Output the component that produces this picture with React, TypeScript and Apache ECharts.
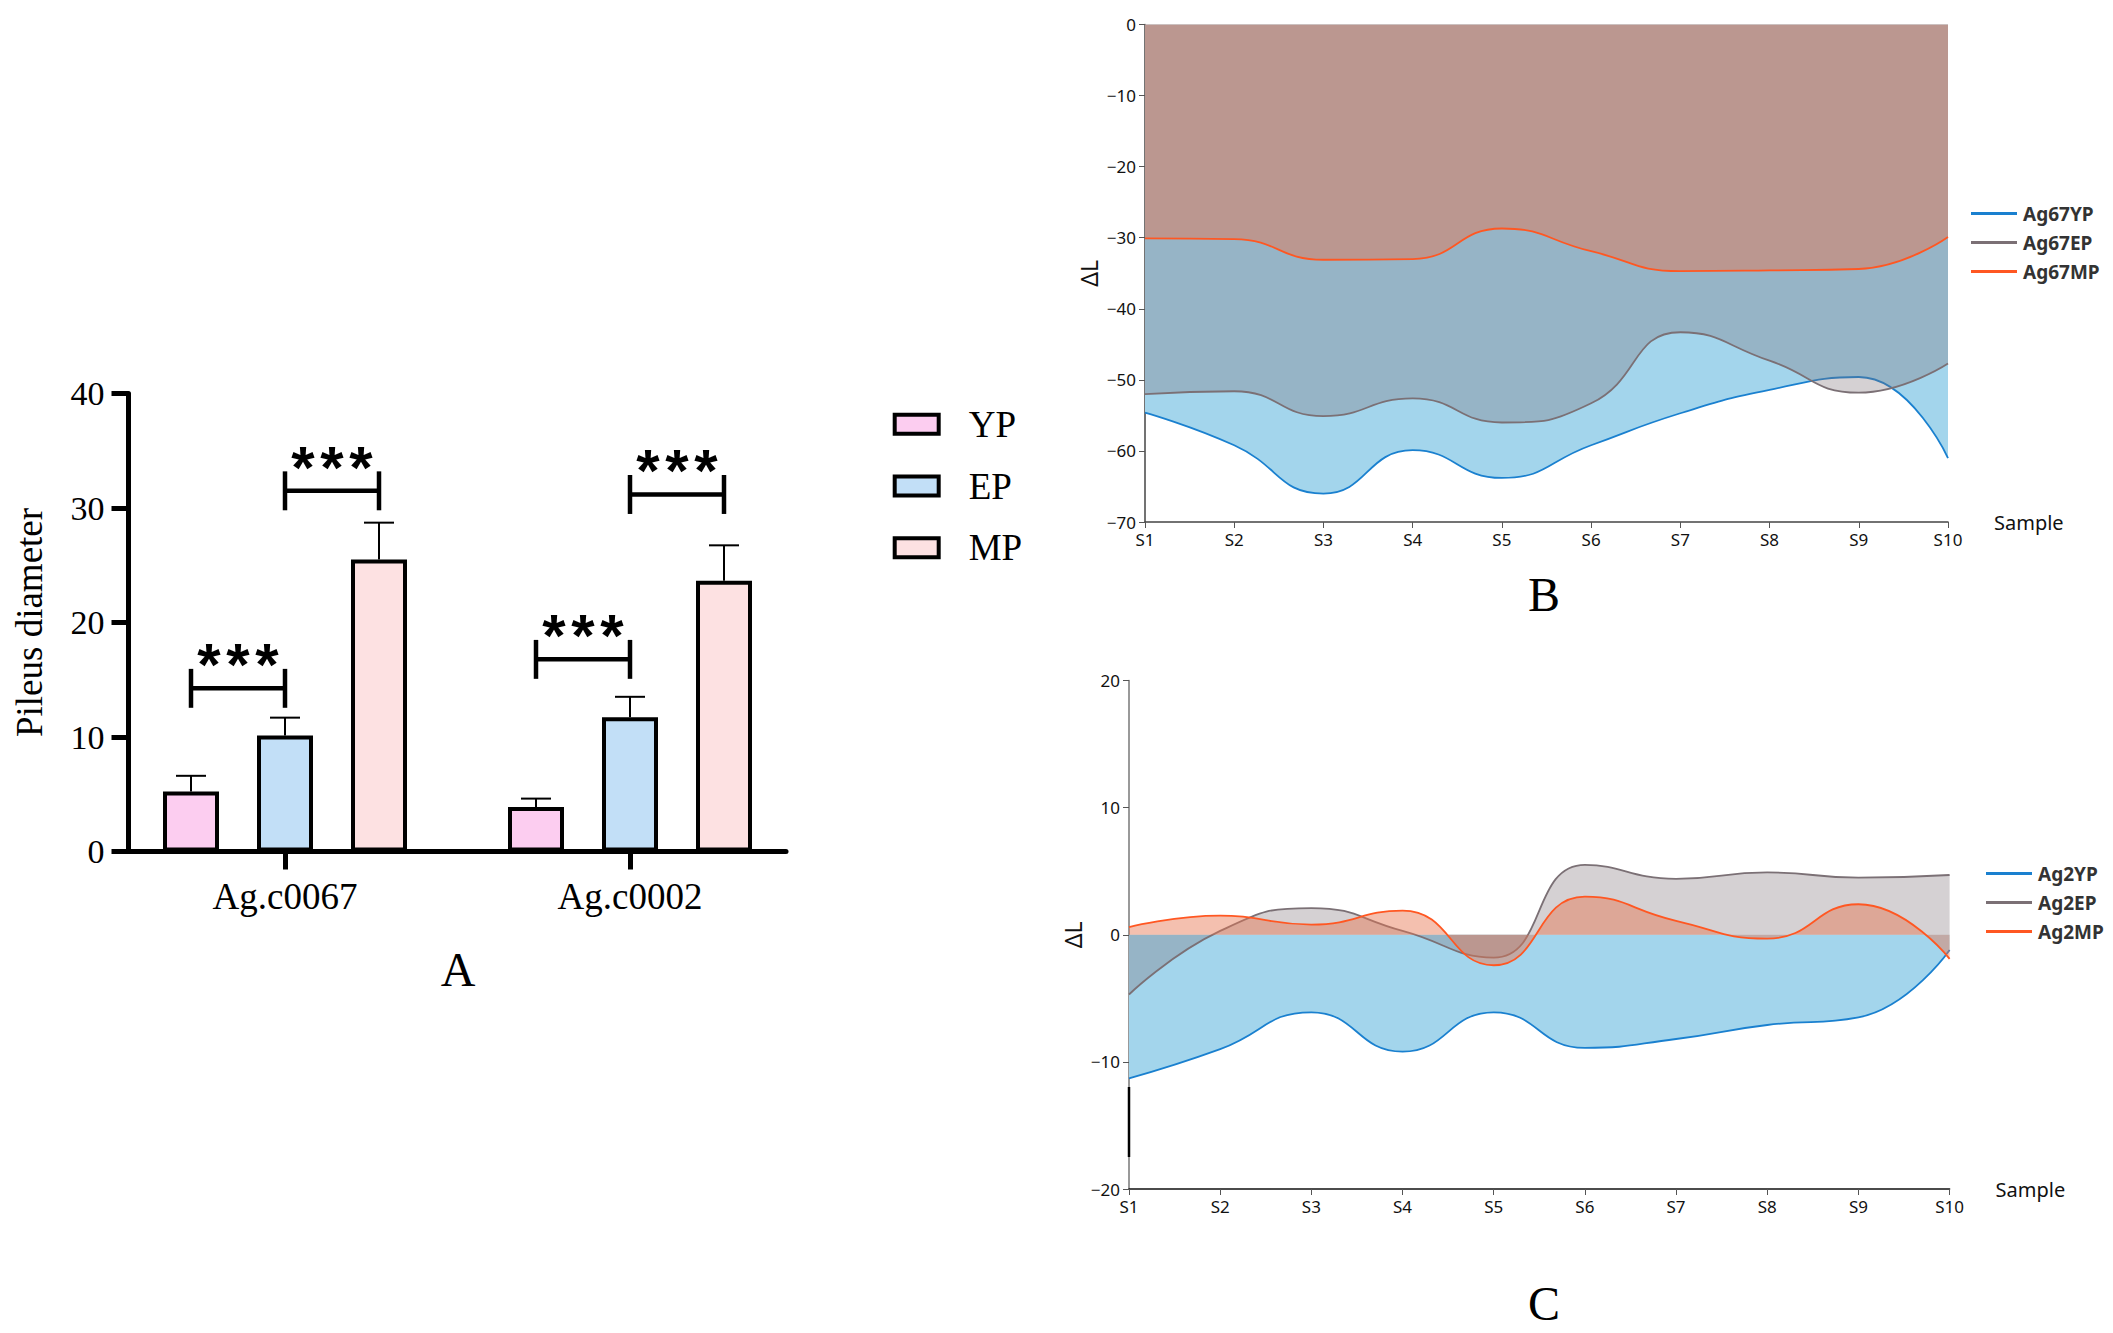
import React, { useEffect, useRef } from "react";
import * as echarts from "echarts";

// ---------- Panel A data ----------
const groups = ["Ag.c0067", "Ag.c0002"];
const stages = ["YP", "EP", "MP"];
const meanYP = [5.23, 3.88];
const meanEP = [10.13, 11.73];
const meanMP = [25.5, 23.64];
const upperYP = [6.61, 4.62];
const upperEP = [11.69, 13.51];
const upperMP = [28.72, 26.74];
// [group index, from stage, to stage, bracket height, label]
const brackets: [number, number, number, number, string][] = [
  [0, 0, 1, 14.25, "***"],
  [0, 1, 2, 31.5, "***"],
  [1, 0, 1, 16.78, "***"],
  [1, 1, 2, 31.18, "***"],
];

// ---------- Panel B / C data ----------
const samples = ["S1", "S2", "S3", "S4", "S5", "S6", "S7", "S8", "S9", "S10"];
const ag67YP = [-54.6, -59.2, -66.0, -59.9, -63.8, -59.2, -54.7, -51.4, -49.6, -61.0];
const ag67EP = [-52.0, -51.6, -55.1, -52.6, -56.0, -53.3, -43.3, -47.3, -51.8, -47.7];
const ag67MP = [-30.1, -30.2, -33.1, -33.0, -28.7, -31.9, -34.7, -34.6, -34.4, -29.9];
const ag2YP = [-11.3, -9.0, -6.1, -9.2, -6.1, -8.9, -8.2, -7.1, -6.5, -1.2];
const ag2EP = [-4.7, 0.3, 2.1, 0.3, -1.8, 5.5, 4.4, 4.9, 4.5, 4.7];
const ag2MP = [0.6, 1.5, 0.8, 1.9, -2.4, 3.0, 1.1, -0.3, 2.4, -1.9];

const stageColors = ["#fccdf0", "#c2dff7", "#fde1e2"];
const lineColors = ["#1a80cf", "#7b7075", "#ff5722"];
const areaColors = ["#a3d5ec", "rgba(124,111,117,0.32)", "rgba(232,118,80,0.46)"];

// layout constants
const BAR_W = 56;
const BAR_GAP = 38;
const BAR_PITCH = BAR_W + BAR_GAP;
const STAR_PITCH = 29;

const SERIF = "Liberation Serif";
const SANS = "Noto Sans";

const minus = (v: number) => String(v).replace("-", "\u2212");

function buildOption() {
  const means = [meanYP, meanEP, meanMP];
  const uppers = [upperYP, upperEP, upperMP];

  const barSeries = stages.map((s, i) => ({
    type: "bar",
    name: s,
    xAxisIndex: 0,
    yAxisIndex: 0,
    data: means[i],
    barWidth: BAR_W,
    barGap: (BAR_GAP / BAR_W) * 100 + "%",
    itemStyle: { color: stageColors[i], borderColor: "#000", borderWidth: 4 },
    z: 3,
  }));

  const errData: number[][] = [];
  stages.forEach((_, s) => {
    groups.forEach((_, g) => {
      errData.push([g, means[s][g], uppers[s][g], s]);
    });
  });

  const errSeries = {
    type: "custom",
    name: "err",
    xAxisIndex: 0,
    yAxisIndex: 0,
    z: 4,
    data: errData,
    encode: { x: 0, y: [1, 2] },
    renderItem: (params: any, api: any) => {
      const g = api.value(0);
      const m = api.value(1);
      const u = api.value(2);
      const s = api.value(3);
      const b = api.coord([g, m]);
      const t = api.coord([g, u]);
      const x = b[0] + (s - 1) * BAR_PITCH;
      return {
        type: "group",
        children: [
          { type: "line", shape: { x1: x, y1: b[1], x2: x, y2: t[1] }, style: { stroke: "#000", lineWidth: 2 } },
          { type: "line", shape: { x1: x - 15, y1: t[1], x2: x + 15, y2: t[1] }, style: { stroke: "#000", lineWidth: 2 } },
        ],
      };
    },
  };

  const brSeries = {
    type: "custom",
    name: "sig",
    xAxisIndex: 0,
    yAxisIndex: 0,
    z: 5,
    data: brackets.map((b) => [b[0], b[3], b[1], b[2]]),
    encode: { x: 0, y: 1 },
    renderItem: (params: any, api: any) => {
      const g = api.value(0);
      const y = api.value(1);
      const f = api.value(2);
      const t = api.value(3);
      const label = brackets[params.dataIndex][4];
      const c = api.coord([g, y]);
      const lo = api.coord([g, y - 1.7]);
      const hi = api.coord([g, y + 1.7]);
      const st = api.coord([g, y + 3.1]);
      const x1 = c[0] + (f - 1) * BAR_PITCH;
      const x2 = c[0] + (t - 1) * BAR_PITCH;
      const ls = { stroke: "#000", lineWidth: 4.5 };
      const chars = label.split("");
      const mid = (x1 + x2) / 2;
      const stars = chars.map((ch, k) => ({
        type: "text",
        x: mid + (k - (chars.length - 1) / 2) * STAR_PITCH,
        y: st[1] + 12,
        style: {
          text: ch,
          fontSize: 60,
          fontFamily: "Liberation Sans",
          fontWeight: "bold",
          fill: "#000",
          align: "center",
          verticalAlign: "middle",
          textAlign: "center",
          textVerticalAlign: "middle",
        },
      }));
      return {
        type: "group",
        children: [
          { type: "line", shape: { x1, y1: c[1], x2, y2: c[1] }, style: ls },
          { type: "line", shape: { x1, y1: lo[1], x2: x1, y2: hi[1] }, style: ls },
          { type: "line", shape: { x1: x2, y1: lo[1], x2, y2: hi[1] }, style: ls },
          ...stars,
        ],
      };
    },
  };

  const lineSeries = (
    names: string[],
    datas: number[][],
    xi: number,
    yi: number
  ) =>
    names.map((n, i) => ({
      type: "line",
      name: n,
      xAxisIndex: xi,
      yAxisIndex: yi,
      data: datas[i],
      smooth: 0.5,
      symbol: "none",
      lineStyle: { color: lineColors[i], width: 1.8 },
      itemStyle: { color: lineColors[i] },
      areaStyle: { color: areaColors[i], opacity: 1, origin: 0 },
      z: 2 + i,
    }));

  const sansAxisLabel = { fontFamily: SANS, fontSize: 17, color: "#111" };

  const catAxisBC = (gi: number, lineColor: string) => ({
    type: "category",
    gridIndex: gi,
    data: samples,
    boundaryGap: false,
    axisLine: { onZero: false, lineStyle: { color: lineColor, width: 1.5 } },
    axisTick: { show: true, length: 6, lineStyle: { color: "#555" } },
    axisLabel: { ...sansAxisLabel, margin: 9 },
    name: "Sample",
    nameLocation: "end",
    nameGap: 46,
    nameTextStyle: { fontFamily: SANS, fontSize: 20, color: "#111", verticalAlign: "middle" },
    splitLine: { show: false },
  });

  const valAxisBC = (gi: number, min: number, max: number, lineColor: string) => ({
    type: "value",
    gridIndex: gi,
    min,
    max,
    interval: 10,
    axisLine: { show: true, onZero: false, lineStyle: { color: lineColor, width: 1.5 } },
    axisTick: { show: true, length: 6, lineStyle: { color: "#555" } },
    axisLabel: { ...sansAxisLabel, margin: 9, formatter: (v: number) => minus(v) },
    splitLine: { show: false },
    name: "\u0394L",
    nameLocation: "middle",
    nameGap: 45,
    nameTextStyle: { fontFamily: SANS, fontSize: 23, color: "#111" },
  });

  const letter = (t: string, x: number, y: number) => ({
    type: "text",
    x,
    y,
    style: {
      text: t,
      fontFamily: SERIF,
      fontSize: 48,
      fill: "#000",
      textAlign: "center",
      textVerticalAlign: "middle",
      align: "center",
      verticalAlign: "middle",
    },
  });

  return {
    animation: false,
    backgroundColor: "#fff",
    grid: [
      { left: 112.5, top: 393.5, width: 690, height: 458 },
      { left: 128.5, top: 393.5, width: 657.5, height: 458 },
      { left: 1145, top: 24.5, width: 803, height: 497.5 },
      { left: 1129, top: 680.5, width: 820.6, height: 508.5 },
    ],
    xAxis: [
      {
        type: "category",
        gridIndex: 0,
        data: groups,
        axisLine: { show: false },
        axisTick: { show: true, alignWithLabel: true, length: 18, lineStyle: { color: "#000", width: 5 } },
        axisLabel: { fontFamily: SERIF, fontSize: 37, color: "#000", margin: 26 },
      },
      {
        type: "value",
        gridIndex: 1,
        min: 0,
        max: 1,
        axisLine: { show: true, onZero: false, lineStyle: { color: "#000", width: 5 } },
        axisTick: { show: false },
        axisLabel: { show: false },
        splitLine: { show: false },
      },
      catAxisBC(2, "#444"),
      catAxisBC(3, "#111"),
    ],
    yAxis: [
      { type: "value", gridIndex: 0, min: 0, max: 40, show: false },
      {
        type: "value",
        gridIndex: 1,
        min: 0,
        max: 40,
        interval: 10,
        axisLine: { show: true, onZero: false, lineStyle: { color: "#000", width: 5 } },
        axisTick: { show: true, length: 17, lineStyle: { color: "#000", width: 5 } },
        axisLabel: { fontFamily: SERIF, fontSize: 34, color: "#000", margin: 24 },
        splitLine: { show: false },
        name: "Pileus diameter",
        nameLocation: "middle",
        nameGap: 81,
        nameTextStyle: { fontFamily: SERIF, fontSize: 37, color: "#000" },
      },
      valAxisBC(2, -70, 0, "#444"),
      valAxisBC(3, -20, 20, "#777"),
    ],
    legend: [
      {
        data: stages,
        orient: "vertical",
        left: 892.7,
        top: 405.8,
        padding: 0,
        icon: "rect",
        itemWidth: 44,
        itemHeight: 19,
        itemGap: 24.7,
        itemStyle: { borderColor: "#000", borderWidth: 4 },
        textStyle: { fontFamily: SERIF, fontSize: 37, color: "#000", lineHeight: 37, padding: [0, 0, 0, 25] },
      },
      {
        data: ["Ag67YP", "Ag67EP", "Ag67MP"],
        orient: "vertical",
        left: 1971,
        top: 204,
        padding: 0,
        icon: "rect",
        itemWidth: 46,
        itemHeight: 3,
        itemGap: 10,
        itemStyle: { borderWidth: 0 },
        textStyle: { fontFamily: SANS, fontSize: 19, fontWeight: "bold", color: "#333", padding: [0, 0, 0, 1] },
      },
      {
        data: ["Ag2YP", "Ag2EP", "Ag2MP"],
        orient: "vertical",
        left: 1986,
        top: 864,
        padding: 0,
        icon: "rect",
        itemWidth: 46,
        itemHeight: 3,
        itemGap: 10,
        itemStyle: { borderWidth: 0 },
        textStyle: { fontFamily: SANS, fontSize: 19, fontWeight: "bold", color: "#333", padding: [0, 0, 0, 1] },
      },
    ],
    graphic: [
      letter("A", 458, 969.5),
      letter("B", 1544, 594),
      letter("C", 1544, 1303),
      {
        type: "line",
        shape: { x1: 1129, y1: 1087, x2: 1129, y2: 1157 },
        style: { stroke: "#000", lineWidth: 2.5 },
        z: 100,
      },
    ],
    series: [
      ...barSeries,
      errSeries,
      brSeries,
      ...lineSeries(["Ag67YP", "Ag67EP", "Ag67MP"], [ag67YP, ag67EP, ag67MP], 2, 2),
      ...lineSeries(["Ag2YP", "Ag2EP", "Ag2MP"], [ag2YP, ag2EP, ag2MP], 3, 3),
    ],
  };
}

export default function App() {
  const ref = useRef<HTMLDivElement>(null);
  useEffect(() => {
    if (!ref.current) return;
    const chart = echarts.init(ref.current, undefined, { renderer: "svg" });
    chart.setOption(buildOption() as any);
    return () => chart.dispose();
  }, []);
  return (
    <div
      ref={ref}
      style={{ position: "fixed", left: 0, top: 0, width: 2113, height: 1333, background: "#fff" }}
    />
  );
}
